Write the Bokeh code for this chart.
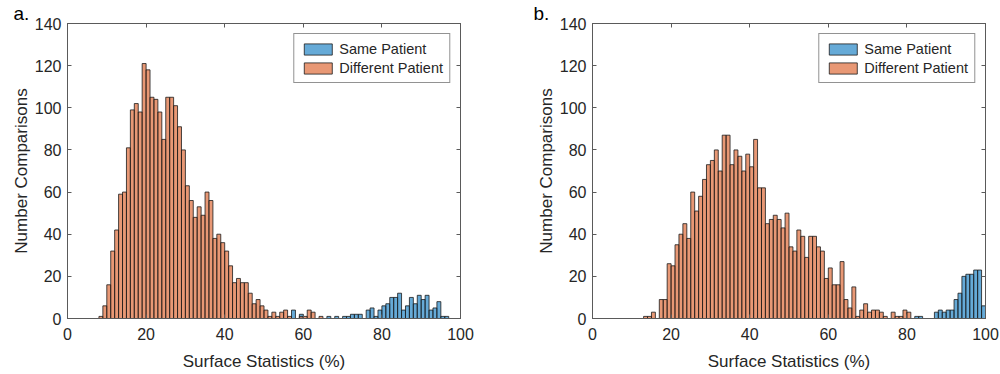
from bokeh.plotting import figure
from bokeh.models import Range1d, LinearAxis, Legend, LegendItem, FixedTicker
from bokeh.layouts import row
from bokeh.embed import file_html
from bokeh.resources import INLINE

# ---------------- data (counts per 1%-wide bin) ----------------
x_ticks = [0, 20, 40, 60, 80, 100]
y_ticks = [0, 20, 40, 60, 80, 100, 120, 140]
labels = ["Same Patient", "Different Patient"]
x_title = "Surface Statistics (%)"
y_title = "Number Comparisons"

# panel a
a_diff_start = 8
a_diff_counts = [1, 6, 16, 32, 42, 59, 60, 81, 99, 102, 98, 121, 118, 105, 104, 98, 85,
                 105, 105, 101, 91, 80, 63, 56, 48, 53, 49, 60, 56, 38, 40, 36, 32, 25,
                 17, 19, 17, 17, 12, 7, 9, 6, 4, 1, 3, 1, 3, 4, 1, 0, 0, 1, 1, 4, 3, 0, 1]
a_same_start = 57
a_same_counts = [4, 0, 2, 0, 0, 0, 0, 0, 0, 1, 0, 1, 0, 1, 1, 2, 2, 2, 0, 4, 5, 1, 4, 6,
                 7, 10, 10, 12, 4, 6, 10, 7, 11, 9, 11, 4, 5, 8, 1, 1]

# panel b
b_diff_start = 13
b_diff_counts = [1, 1, 3, 0, 9, 9, 26, 25, 35, 40, 45, 38, 60, 51, 58, 66, 73,
                 75, 80, 70, 87, 87, 73, 80, 77, 70, 78, 72, 85, 62, 62, 45,
                 47, 49, 47, 43, 50, 34, 32, 42, 39, 29, 39, 39, 34, 32, 19, 24,
                 16, 16, 27, 9, 5, 15, 1, 4, 7, 3, 4, 4, 3, 1, 0, 3, 1, 1, 4, 3]
b_same_start = 82
b_same_counts = [1, 1, 0, 0, 0, 3, 4, 3, 4, 4, 9, 12, 20, 21, 21, 23, 23, 6]

# ---------------- style ----------------
BLUE = "#0072BD"
ORANGE = "#D95319"
EDGE = "#1a1a1a"
AX = "#262626"
FRAME = "#5a5a5a"
FONT = "Liberation Sans"
H = 374


def make_panel(letter, letter_offset, diff_start, diff_counts, same_start, same_counts,
               width, border_left, border_right):
    p = figure(width=width, height=H, x_range=Range1d(0, 100), y_range=Range1d(0, 140),
               output_backend="svg", toolbar_location=None,
               min_border_left=border_left, min_border_right=border_right,
               min_border_top=21, min_border_bottom=56,
               background_fill_color="white", border_fill_color="white")
    p.xgrid.visible = False
    p.ygrid.visible = False
    p.outline_line_color = FRAME
    p.outline_line_width = 1

    p.title.text = letter
    p.title.align = "left"
    p.title.offset = letter_offset
    p.title.standoff = 0
    p.title.text_font = FONT
    p.title.text_font_size = "19px"
    p.title.text_font_style = "normal"
    p.title.text_color = "black"

    same_x = [same_start + i + 0.5 for i in range(len(same_counts))]
    diff_x = [diff_start + i + 0.5 for i in range(len(diff_counts))]
    r_same = p.vbar(x=same_x, top=same_counts, bottom=0, width=1,
                    fill_color=BLUE, fill_alpha=0.6, line_color=EDGE, line_width=0.8)
    r_diff = p.vbar(x=diff_x, top=diff_counts, bottom=0, width=1,
                    fill_color=ORANGE, fill_alpha=0.6, line_color=EDGE, line_width=0.8)

    for ax in (p.xaxis[0], p.yaxis[0]):
        ax.axis_line_color = FRAME
        ax.major_tick_line_color = FRAME
        ax.major_tick_in = 4
        ax.major_tick_out = 0
        ax.minor_tick_line_color = None
        ax.major_label_text_font = FONT
        ax.major_label_text_font_size = "16px"
        ax.major_label_text_color = AX
        ax.axis_label_text_font = FONT
        ax.axis_label_text_font_size = "17px"
        ax.axis_label_text_font_style = "normal"
        ax.axis_label_text_color = AX
    p.xaxis[0].ticker = FixedTicker(ticks=x_ticks)
    p.yaxis[0].ticker = FixedTicker(ticks=y_ticks)
    p.xaxis[0].axis_label = x_title
    p.yaxis[0].axis_label = y_title
    p.xaxis[0].major_label_standoff = 9
    p.yaxis[0].major_label_standoff = 6
    p.xaxis[0].axis_label_standoff = 9
    p.yaxis[0].axis_label_standoff = 1

    top_ax = LinearAxis(ticker=FixedTicker(ticks=x_ticks),
                        major_label_overrides={t: "" for t in x_ticks},
                        major_tick_in=4, major_tick_out=0, minor_tick_line_color=None,
                        axis_line_color=FRAME, major_tick_line_color=FRAME,
                        major_label_standoff=0)
    right_ax = LinearAxis(ticker=FixedTicker(ticks=y_ticks),
                          major_label_overrides={t: "" for t in y_ticks},
                          major_tick_in=4, major_tick_out=0, minor_tick_line_color=None,
                          axis_line_color=FRAME, major_tick_line_color=FRAME,
                          major_label_standoff=0)
    p.add_layout(top_ax, "above")
    p.add_layout(right_ax, "right")

    legend = Legend(items=[LegendItem(label=labels[0], renderers=[r_same]),
                           LegendItem(label=labels[1], renderers=[r_diff])],
                    location="top_right", margin=10, padding=6, spacing=2,
                    glyph_width=35, glyph_height=14, label_height=17, label_standoff=4,
                    label_text_font=FONT, label_text_font_size="14.5px",
                    label_text_color=AX, border_line_color=AX, border_line_width=1,
                    background_fill_color="white", background_fill_alpha=1)
    p.add_layout(legend)
    return p


pa = make_panel("a.", -54, a_diff_start, a_diff_counts, a_same_start, a_same_counts,
                508, 67, 48)
pb = make_panel("b.", -59, b_diff_start, b_diff_counts, b_same_start, b_same_counts,
                492, 84, 15)

layout = row(pa, pb)
open("out.html", "w").write(file_html(layout, INLINE))
